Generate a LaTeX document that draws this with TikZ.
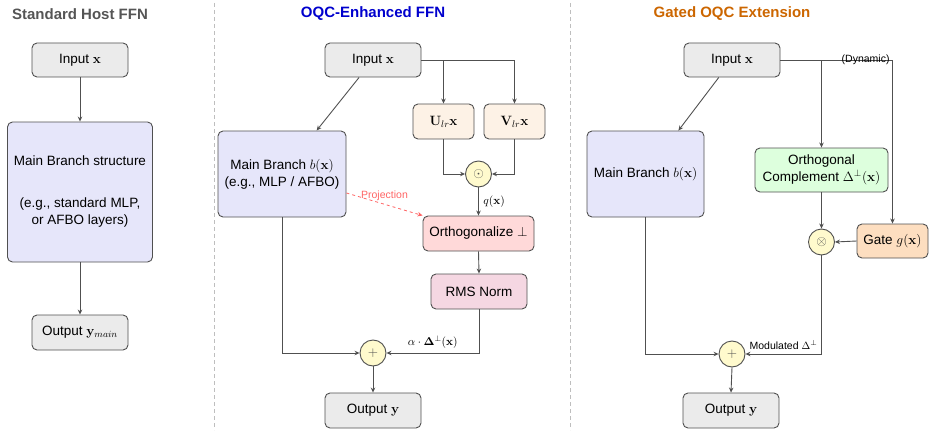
\documentclass[tikz,border=0pt]{standalone}
\usepackage{fix-cm}
\usepackage[no-math]{fontspec}
\setmainfont{Liberation Sans}
\usetikzlibrary{arrows.meta}
\definecolor{linec}{RGB}{80,80,80}
\definecolor{grayfill}{RGB}{235,235,235}
\definecolor{lav}{RGB}{230,230,250}
\definecolor{beige}{RGB}{253,242,230}
\definecolor{lemon}{RGB}{255,250,205}
\definecolor{pinkA}{RGB}{255,217,217}
\definecolor{pinkB}{RGB}{245,215,226}
\definecolor{greenA}{RGB}{221,255,221}
\definecolor{peach}{RGB}{253,222,192}
\definecolor{titgray}{RGB}{85,85,85}
\definecolor{titblue}{RGB}{0,0,205}
\definecolor{titorange}{RGB}{204,102,0}
\definecolor{projred}{RGB}{255,100,100}
\definecolor{divc}{RGB}{190,190,190}
\begin{document}
\begin{tikzpicture}[x=1pt,y=-1pt,
  font=\fontsize{13.5}{17}\selectfont,
  box/.style={draw=linec, rounded corners=5pt, line width=0.9pt, align=center, inner sep=0pt},
  opc/.style={draw=linec, circle, fill=lemon, line width=0.9pt, minimum size=26, inner sep=0pt, text=linec},
  arr/.style={draw=linec, line width=0.9pt, -{Stealth[length=5pt,width=4.5pt]}},
  ttl/.style={font=\fontsize{15}{18}\selectfont\bfseries},
  small/.style={font=\fontsize{10.5}{12}\selectfont, text=black},
  mlab/.style={font=\fontsize{11.5}{13}\selectfont, text=black},
  divider/.style={draw=divc, line width=0.7pt, dash pattern=on 4pt off 3pt}]
\useasboundingbox (0,0) rectangle (935,436);

% dividers
\draw[divider] (214.5,3) -- (214.5,430);
\draw[divider] (570.5,3) -- (570.5,430);

% ---------- Panel 1 ----------
\node[ttl, text=titgray] (t1) at (80,14) {Standard Host FFN};
\node[box, fill=grayfill, minimum width=96, minimum height=34] (in1) at (80,60) {Input $\mathbf{x}$};
\node[box, fill=lav, minimum width=145, minimum height=140] (mb1) at (80,192)
  {Main Branch structure\\[25pt](e.g., standard MLP,\\or AFBO layers)};
\node[box, fill=grayfill, minimum width=96, minimum height=35] (out1) at (80,332.5) {Output $\mathbf{y}_{main}$};
\draw[arr] (in1) -- (mb1);
\draw[arr] (mb1) -- (out1);

% ---------- Panel 2 ----------
\node[ttl, text=titblue] (t2) at (373,14) {OQC-Enhanced FFN};
\node[box, fill=grayfill, minimum width=96, minimum height=34] (in2) at (373,60) {Input $\mathbf{x}$};
\node[box, fill=lav, minimum width=128, minimum height=86] (mb2) at (282,174)
  {Main Branch $b(\mathbf{x})$\\(e.g., MLP / AFBO)};
\node[box, fill=beige, minimum width=61, minimum height=35] (u2) at (443.5,121.5) {$\mathbf{U}_{lr}\mathbf{x}$};
\node[box, fill=beige, minimum width=61, minimum height=35] (v2) at (514.5,121.5) {$\mathbf{V}_{lr}\mathbf{x}$};
\node[opc] (dot2) at (478.5,174) {$\odot$};
\node[box, fill=pinkA, minimum width=111, minimum height=35] (orth2) at (478.5,233.5) {Orthogonalize $\perp$};
\node[box, fill=pinkB, minimum width=96, minimum height=35] (rms2) at (479,291.5) {RMS Norm};
\node[opc] (plus2) at (373,353) {$+$};
\node[box, fill=grayfill, minimum width=96, minimum height=35] (out2) at (373,410.5) {Output $\mathbf{y}$};

\draw[arr] (in2) -- (mb2);
\draw[arr] (in2.east) -| (u2.north);
\draw[arr] (in2.east) -| (v2.north);
\draw[arr] (u2.south) |- (dot2.west);
\draw[arr] (v2.south) |- (dot2.east);
\draw[arr] (dot2.south) -- node[mlab, right, xshift=1pt] (qlab) {$q(\mathbf{x})$} (orth2.north);
\draw[arr] (orth2.south) -- (rms2.north);
\draw[draw=projred, line width=0.8pt, dashed, -{Stealth[length=5pt,width=4.5pt]}]
  ([yshift=-19pt]mb2.east) -- node[small, text=projred, yshift=8pt] (projlab) {Projection} (orth2.north west);
\draw[arr] (rms2.south) |- node[mlab, pos=0.75, above, yshift=1pt] (alab) {$\alpha\cdot\mathbf{\Delta}^{\perp}(\mathbf{x})$} (plus2.east);
\draw[arr] (mb2.south) |- (plus2.west);
\draw[arr] (plus2.south) -- (out2.north);

% ---------- Panel 3 ----------
\node[ttl, text=titorange] (t3) at (732,14) {Gated OQC Extension};
\node[box, fill=grayfill, minimum width=96, minimum height=34] (in3) at (732,60) {Input $\mathbf{x}$};
\node[box, fill=lav, minimum width=117, minimum height=86] (mb3) at (645.5,174) {Main Branch $b(\mathbf{x})$};
\node[box, fill=greenA, minimum width=133, minimum height=44] (oc3) at (821.5,170)
  {Orthogonal\\Complement $\Delta^{\perp}(\mathbf{x})$};
\node[opc] (ot3) at (821.5,242) {$\otimes$};
\node[box, fill=peach, minimum width=71, minimum height=34] (gate3) at (892.5,241) {Gate $g(\mathbf{x})$};
\node[opc] (plus3) at (732,354) {$+$};
\node[box, fill=grayfill, minimum width=96, minimum height=35] (out3) at (731,410.5) {Output $\mathbf{y}$};

\draw[arr] (in3) -- (mb3);
\draw[arr] (in3.east) -| (oc3.north);
\draw[arr] (in3.east) -| node[small, pos=0.38, inner sep=0pt] (dyn) {(Dynamic)} (gate3.north);
\draw[arr] (oc3.south) -- (ot3.north);
\draw[arr] (gate3.west) -- (ot3.east);
\draw[arr] (ot3.south) |- node[small, pos=0.75, above, yshift=1pt] (mlab) {Modulated $\Delta^{\perp}$} (plus3.east);
\draw[arr] (mb3.south) |- (plus3.west);
\draw[arr] (plus3.south) -- (out3.north);
\end{tikzpicture}
\end{document}
